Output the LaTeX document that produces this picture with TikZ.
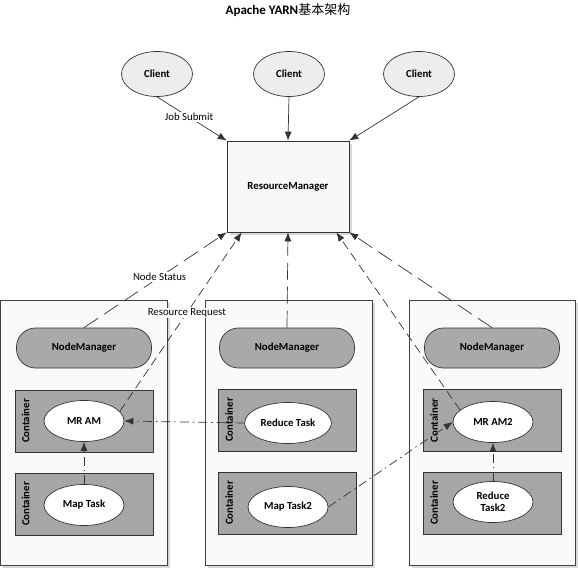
\documentclass[tikz,border=0pt]{standalone}
\usepackage{fontspec}
\setmainfont{Carlito}
\newfontfamily\cjkfont{Noto Sans CJK SC}
\usetikzlibrary{arrows.meta,shapes.geometric,shadows}

\definecolor{linegray}{HTML}{333333}
\definecolor{nmgray}{HTML}{A9A9A9}
\definecolor{cgray}{HTML}{A6A6A6}

\begin{document}
\begin{tikzpicture}[x=1pt,y=-1pt,line width=0.7pt,
    every node/.style={font=\fontsize{10.8}{12}\selectfont},
    lbl/.style={font=\fontsize{10.8}{12}\selectfont\bfseries},
    client/.style={lbl,ellipse,draw=linegray,fill=black!7,minimum width=71pt,minimum height=45pt},
    task/.style={lbl,ellipse,draw=linegray,fill=white,minimum width=80pt,minimum height=41pt,align=center},
    host/.style={draw=black!75,fill=black!2,drop shadow={shadow xshift=2.5pt,shadow yshift=-2.5pt,opacity=0.3}},
    nm/.style={lbl,draw=linegray,fill=nmgray,rounded corners=19pt,minimum width=135pt,minimum height=40pt},
    container/.style={draw=linegray,fill=cgray,minimum width=138pt,minimum height=62pt},
    tip/.style={-{Latex[length=9pt,width=7pt]}},
    submit/.style={tip,draw=linegray},
    heartbeat/.style={tip,draw=linegray,dash pattern=on 17pt off 7pt},
    request/.style={tip,draw=linegray,dash pattern=on 9pt off 5pt},
    status/.style={tip,draw=linegray,dash pattern=on 9pt off 4pt on 1.5pt off 4pt},
    txt/.style={fill=white,inner sep=1pt}]
    \useasboundingbox (0,0) rectangle (578,568);

    \node[font=\fontsize{13}{15}\selectfont] (title) at (288,10)
        {\textbf{Apache YARN}{\cjkfont 基本架构}};

    % clients and resource manager
    \node[client] (c1) at (157,74) {Client};
    \node[client] (c2) at (289,74) {Client};
    \node[client] (c3) at (419,74) {Client};
    \node[lbl,draw=linegray,fill=black!3,minimum width=122pt,minimum height=91pt,
          drop shadow={shadow xshift=2.5pt,shadow yshift=-2.5pt,opacity=0.3}] (rm) at (288,186.5) {ResourceManager};

    % hosts
    \node[host,minimum width=167pt,minimum height=265pt] (h1) at (83.5,432.5) {};
    \node[host,minimum width=167pt,minimum height=265pt] (h2) at (288.5,432.5) {};
    \node[host,minimum width=166pt,minimum height=265pt] (h3) at (492,432.5) {};

    \node[nm] (nm1) at (84,348) {NodeManager};
    \node[nm] (nm2) at (287,348) {NodeManager};
    \node[nm] (nm3) at (492,348) {NodeManager};

    \node[container] (k1) at (84,421) {};
    \node[container] (k2) at (84,504) {};
    \node[container] (k3) at (287.5,420) {};
    \node[container] (k4) at (287.5,503) {};
    \node[container] (k5) at (492.5,420.5) {};
    \node[container] (k6) at (492.5,503) {};
    \foreach \k in {k1,k2,k3,k4,k5,k6}
        \node[lbl,rotate=90] at ([xshift=11pt]\k.west) {Container};

    \node[task] (mram) at (84,421) {MR AM};
    \node[task] (map) at (84,505) {Map Task};
    \node[task] (reduce) at (288,423) {Reduce Task};
    \node[task] (map2) at (288,507) {Map Task2};
    \node[task] (mram2) at (493,422) {MR AM2};
    \node[task] (reduce2) at (493,502) {Reduce\\Task2};

    % connectors
    \draw[submit] (c1.south) -- node[txt,pos=0.46] {Job Submit} (rm.north west);
    \draw[submit] (c2.south) -- (rm.north);
    \draw[submit] (c3.south) -- (rm.north east);

    \draw[heartbeat] (nm1.north) -- node[txt,pos=0.53] {Node Status} (rm.south west);
    \draw[heartbeat] (nm2.north) -- (rm.south);
    \draw[heartbeat] (nm3.north) -- (rm.south east);
    \draw[request] (mram.15) -- node[txt,pos=0.55] {Resource Request} ([xshift=15pt]rm.south west);
    \draw[request] (mram2.160) -- ([xshift=-13pt]rm.south east);

    \draw[status] (map.north) -- (mram.south);
    \draw[status] (reduce.west) -- (mram.east);
    \draw[status] (map2.east) -- (mram2.west);
    \draw[status] (reduce2.north) -- (mram2.south);
\end{tikzpicture}
\end{document}
